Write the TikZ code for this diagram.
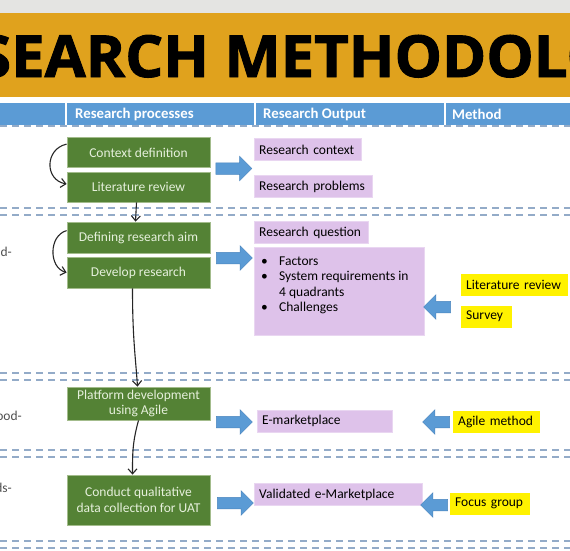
\documentclass[tikz,border=0pt]{standalone}
\usepackage{fontspec}
\setmainfont{Carlito}
\newfontfamily\titlefont{Open Sans}[BoldFeatures={FakeBold=1.6}]
\usetikzlibrary{positioning,arrows.meta,shapes.arrows}

\definecolor{topgray}{HTML}{E4E4E2}
\definecolor{titleorange}{HTML}{E0A21D}
\definecolor{headblue}{HTML}{5B9BD5}
\definecolor{sepblue}{HTML}{93ABC8}
\definecolor{procgreen}{HTML}{548235}
\definecolor{procedge}{HTML}{A3BC8C}
\definecolor{proctext}{HTML}{E6F0DC}
\definecolor{outlilac}{HTML}{DEC2EA}
\definecolor{outedge}{HTML}{E9D6F1}
\definecolor{methyellow}{HTML}{FFF200}
\definecolor{arredge}{HTML}{4A85BE}
\definecolor{sidetext}{HTML}{505050}

\tikzset{
  proc/.style={draw=procedge, line width=0.8pt, fill=procgreen, text=proctext,
    minimum width=143pt, align=center, inner sep=2pt},
  outbox/.style={draw=outedge, fill=outlilac, anchor=west, align=left,
    text width=#1, inner xsep=5pt, minimum height=22pt},
  methbox/.style={fill=methyellow, anchor=west, align=left,
    text width=#1, inner xsep=5pt, minimum height=22pt},
  toright/.style={single arrow, fill=headblue, draw=arredge, line width=0.5pt,
    minimum height=36pt, inner sep=5.5pt, single arrow head extend=6.5pt},
  toleft/.style={toright, shape border rotate=180, minimum height=27pt},
  flow/.style={-{Straight Barb[length=5pt,width=9pt]}, line width=1.1pt, draw=black!85},
  sepline/.style={draw=sepblue, line width=1.8pt, dash pattern=on 7pt off 5pt},
  headtext/.style={anchor=west, inner sep=0pt, text=white, font=\fontsize{14.8pt}{16pt}\selectfont\bfseries},
  sidetag/.style={anchor=east, inner sep=0pt, text=sidetext},
}

\begin{document}
\begin{tikzpicture}[x=1pt, y=-1pt, font=\fontsize{13.5pt}{15.5pt}\selectfont]
\useasboundingbox (0,0) rectangle (570,550);
\fill[white] (0,0) rectangle (570,550);

% title band
\fill[topgray] (0,0) rectangle (570,13);
\fill[titleorange] (0,13) rectangle (570,97);
\begin{scope}
\clip (0,13) rectangle (570,97);
\node[anchor=base west, inner sep=0pt, xscale=1.03, font=\titlefont\bfseries\fontsize{58pt}{60pt}\selectfont] (title) at (-22,77) {SEARCH METHODOLO};
\end{scope}

% column header
\fill[headblue] (0,103) rectangle (570,125);
\foreach \x in {66,255,445}
  \draw[white, line width=1.5pt] (\x,103) -- (\x,125);
\node[headtext] (hdproc) at (75,114) {Research processes};
\node[headtext] (hdout) at (263,114) {Research Output};
\node[headtext] (hdmeth) at (452,114) {Method};

% row separators
\draw[sepline] (0,126) -- (570,126);
\foreach \y in {208,215,373,380,450,457,541,548}
  \draw[sepline] (0,\y) -- (570,\y);

% left column (cut off)
\node[sidetag] (tagtwo) at (12,252) {od-};
\node[sidetag] (tagthree) at (22,416) {ood-};
\node[sidetag] (tagfour) at (12,488) {ds-};

% research processes
\node[proc, minimum height=30pt] (ctx) at (138.5,152.5) {Context definition};
\node[proc, minimum height=30pt] (lit) at (138.5,187) {Literature review};
\node[proc, minimum height=31pt] (aim) at (138.5,237.5) {Defining research aim};
\node[proc, minimum height=31pt] (dev) at (138.5,272.5) {Develop research};
\node[proc, minimum height=33pt] (agile) at (138.5,403.5) {Platform development\\using Agile};
\node[proc, minimum height=50pt] (uat) at (138.5,500) {Conduct qualitative\\data collection for UAT};

\draw[flow] ([yshift=-7pt]ctx.north west) .. controls +(-22,5) and +(-22,-4) .. ([yshift=3pt]lit.west);
\draw[flow] ([yshift=-9pt]aim.north west) .. controls +(-18,5) and +(-18,-5) .. (dev.west);
\draw[flow] ([xshift=-2pt]lit.south) -- ([xshift=-3pt]aim.north);
\draw[flow] ([xshift=-6pt]dev.south) .. controls +(0,50) and +(-2,-30) .. ([xshift=-1pt]agile.north);
\draw[flow] (agile.south) .. controls +(-6,22) and +(0,-22) .. ([xshift=-6pt]uat.north);

% arrows to outputs
\node[toright] (goone) at (231,168.5) {};
\node[toright] (gotwo) at (231.5,258) {};
\node[toright] (gothree) at (231.5,422) {};
\node[toright] (gofour) at (232.5,503) {};

% research output
\node[outbox=97pt] (rctx) at (254,149.5) {Research context};
\node[outbox=108pt] (rprob) at (254,186.5) {Research problems};
\node[outbox=104pt] (rq) at (254,232.5) {Research question};
\node[draw=outedge, fill=outlilac, anchor=north west, inner sep=0pt] (rlist) at (254,247)
  {\begin{minipage}[t][88pt][t]{170pt}\vspace*{7pt}%
   \begin{tabular}[t]{@{\hspace{7pt}}p{18pt}@{}l@{}}
   \textbullet & Factors\\
   \textbullet & System requirements in\\
               & 4 quadrants\\
   \textbullet & Challenges
   \end{tabular}\end{minipage}};
\node[outbox=125pt] (emk) at (257,421) {E-marketplace};
\node[outbox=158pt] (vem) at (254,494.5) {Validated e-Marketplace};

% method
\node[methbox=97pt] (ylit) at (461,285) {Literature review};
\node[methbox=41pt] (ysur) at (461,316.5) {Survey};
\node[methbox=77pt] (yagile) at (453,422) {Agile method};
\node[methbox=70pt] (yfocus) at (450,503.5) {Focus group};

\node[toleft] (backtwo) at (440,307) {};
\node[toleft] (backthree) at (439,422) {};
\node[toleft] (backfour) at (437,505) {};
\end{tikzpicture}
\end{document}
